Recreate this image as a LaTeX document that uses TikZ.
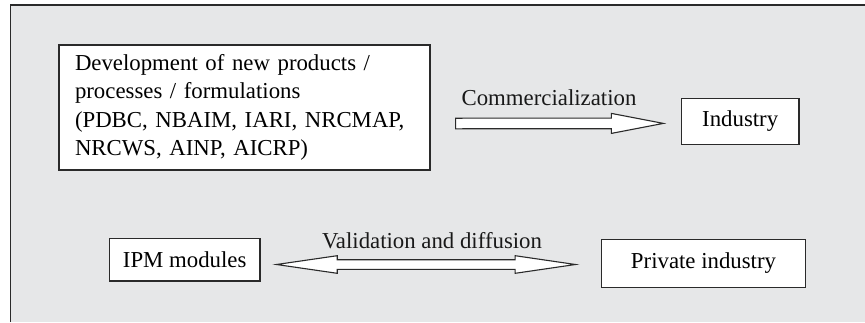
\documentclass[tikz,border=0pt]{standalone}
\usepackage{fontspec}
\setmainfont{Liberation Serif}
\usetikzlibrary{calc}
\definecolor{bggray}{HTML}{E6E7E8}
\definecolor{linegray}{HTML}{2A2A2A}
\tikzset{
  box/.style={draw=linegray, line width=1.1pt, fill=white, rectangle, inner sep=0pt,
    font=\fontsize{22.8}{28.5}\selectfont},
  lbl/.style={font=\fontsize{22.8}{28.5}\selectfont, inner sep=0pt, anchor=base, text=black!90},
  hollow/.style={draw=linegray, line width=1.1pt, fill=white, line join=miter},
}
\begin{document}
\begin{tikzpicture}[x=1pt,y=-1pt]
\useasboundingbox (0,0) rectangle (865,322);
\fill[bggray] (10.5,5) rectangle (865,322);
\draw[linegray, line width=1.1pt] (10.5,322) -- (10.5,5) -- (865,5);

\node[box, minimum width=371pt, minimum height=125pt, text width=339pt, align=left]
  (dev) at (244.5,107.5)
  {Development of new products /\\ processes / formulations\\ (PDBC, NBAIM, IARI, NRCMAP,\\ NRCWS, AINP, AICRP)};
\node[box, minimum width=117.5pt, minimum height=46.3pt] (ind) at (740.2,121.2) {Industry};
\node[box, minimum width=150.5pt, minimum height=42.7pt] (ipm) at (184.7,259.6) {IPM modules};
\node[box, minimum width=203.6pt, minimum height=47.8pt] (priv) at (703.5,263.4) {Private industry};

% commercialization arrow
\coordinate (a1s) at ($(dev.east)+(25,16)$);
\coordinate (a1e) at ($(ind.west)+(-17.5,2.2)$);
\draw[hollow] ($(a1s)+(0,-5.3)$) -- ($(a1e)+(-52,-5.3)$) -- ($(a1e)+(-52,-10)$) -- (a1e)
  -- ($(a1e)+(-52,10)$) -- ($(a1e)+(-52,5.3)$) -- ($(a1s)+(0,5.3)$) -- cycle;
\node[lbl] (com) at (549,105) {Commercialization};

% validation double arrow
\coordinate (a2s) at ($(ipm.east)+(16,4.9)$);
\coordinate (a2e) at ($(priv.west)+(-25.7,1.1)$);
\draw[hollow] (a2s) -- ($(a2s)+(60.7,-8.8)$) -- ($(a2s)+(60.7,-4.8)$) -- ($(a2e)+(-60.3,-4.8)$)
  -- ($(a2e)+(-60.3,-8.8)$) -- (a2e) -- ($(a2e)+(-60.3,8.8)$) -- ($(a2e)+(-60.3,4.8)$)
  -- ($(a2s)+(60.7,4.8)$) -- ($(a2s)+(60.7,8.8)$) -- cycle;
\node[lbl] (val) at (432,248.5) {Validation and diffusion};
\end{tikzpicture}
\end{document}
